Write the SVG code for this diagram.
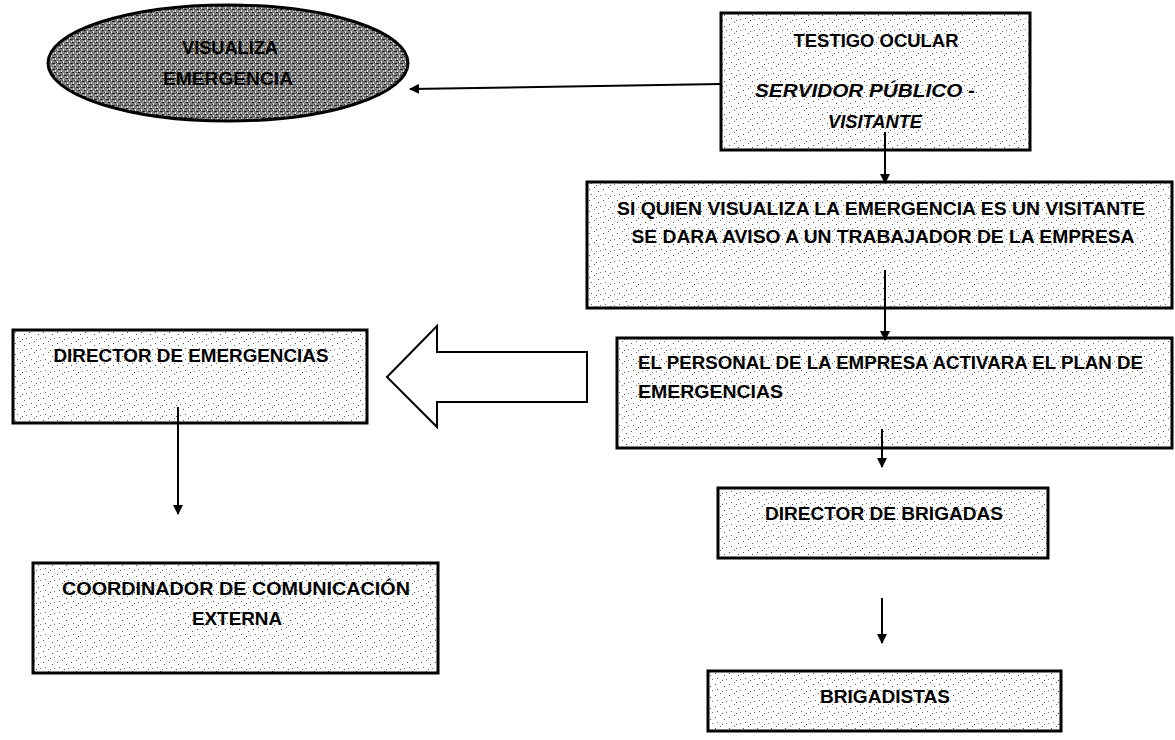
<svg xmlns="http://www.w3.org/2000/svg" width="1175" height="740" viewBox="0 0 1175 740">
<defs>
<pattern id="stip" width="14" height="11" patternUnits="userSpaceOnUse">
<rect width="14" height="11" fill="#ffffff"/>
<rect x="1" y="2" width="1" height="1" fill="#555"/>
<rect x="6" y="0" width="1" height="1" fill="#666"/>
<rect x="10" y="4" width="1" height="1" fill="#555"/>
<rect x="3" y="7" width="1" height="1" fill="#666"/>
<rect x="8" y="9" width="1" height="1" fill="#555"/>
<rect x="12" y="8" width="1" height="1" fill="#777"/>
</pattern>
<pattern id="noise" width="6" height="6" patternUnits="userSpaceOnUse">
<rect width="6" height="6" fill="#7e7e7e"/>
<rect x="0" y="0" width="2" height="1" fill="#1a1a1a"/>
<rect x="3" y="1" width="1" height="2" fill="#f0f0f0"/>
<rect x="4" y="3" width="2" height="1" fill="#222"/>
<rect x="1" y="4" width="1" height="2" fill="#e8e8e8"/>
<rect x="2" y="2" width="1" height="1" fill="#333"/>
<rect x="5" y="5" width="1" height="1" fill="#ddd"/>
<rect x="0" y="3" width="1" height="1" fill="#2a2a2a"/>
</pattern>
<marker id="ah" viewBox="0 0 10 10" refX="9" refY="5" markerWidth="10" markerHeight="10" markerUnits="userSpaceOnUse" orient="auto">
<path d="M0,0 L10,5 L0,10 Z" fill="#000"/>
</marker>
<style>
.box{fill:url(#stip);stroke:#000;stroke-width:3}
.t{font-family:"Liberation Sans",Arial,sans-serif;font-weight:bold;font-size:18px;fill:#000}
.c{text-anchor:middle}
.i{font-style:italic}
.ln{stroke:#000;stroke-width:2;fill:none;marker-end:url(#ah)}
</style>
</defs>
<g id="visualiza">
<ellipse cx="228" cy="63" rx="180" ry="58" fill="url(#noise)" stroke="#000" stroke-width="3"/>
<text class="t c" x="230" y="54" textLength="96" lengthAdjust="spacingAndGlyphs">VISUALIZA</text>
<text class="t c" x="228" y="85" textLength="130" lengthAdjust="spacingAndGlyphs">EMERGENCIA</text>
</g>
<g id="testigo">
<rect class="box" x="721" y="13" width="309" height="137"/>
<text class="t c" x="876" y="47" textLength="165" lengthAdjust="spacingAndGlyphs">TESTIGO OCULAR</text>
<text class="t c i" x="865" y="97" textLength="220" lengthAdjust="spacingAndGlyphs">SERVIDOR PÚBLICO -</text>
<text class="t c i" x="875" y="128" textLength="94" lengthAdjust="spacingAndGlyphs">VISITANTE</text>
</g>
<g id="si-quien">
<rect class="box" x="587" y="182" width="585" height="126"/>
<text class="t c" x="881" y="215" textLength="528" lengthAdjust="spacingAndGlyphs">SI QUIEN VISUALIZA LA EMERGENCIA ES UN VISITANTE</text>
<text class="t c" x="883" y="243" textLength="503" lengthAdjust="spacingAndGlyphs">SE DARA AVISO A UN TRABAJADOR DE LA EMPRESA</text>
</g>
<g id="el-personal">
<rect class="box" x="617" y="338" width="555" height="110"/>
<text class="t" x="638" y="369" textLength="505" lengthAdjust="spacingAndGlyphs">EL PERSONAL DE LA EMPRESA ACTIVARA EL PLAN DE</text>
<text class="t" x="638" y="398" textLength="145" lengthAdjust="spacingAndGlyphs">EMERGENCIAS</text>
</g>
<g id="director-emergencias">
<rect class="box" x="13" y="330" width="354" height="93"/>
<text class="t c" x="191" y="362" textLength="275" lengthAdjust="spacingAndGlyphs">DIRECTOR DE EMERGENCIAS</text>
</g>
<g id="coordinador">
<rect class="box" x="33" y="563" width="405" height="110"/>
<text class="t c" x="236" y="595" textLength="348" lengthAdjust="spacingAndGlyphs">COORDINADOR DE COMUNICACIÓN</text>
<text class="t c" x="237" y="625" textLength="90" lengthAdjust="spacingAndGlyphs">EXTERNA</text>
</g>
<g id="director-brigadas">
<rect class="box" x="718" y="488" width="330" height="70"/>
<text class="t c" x="884" y="520" textLength="238" lengthAdjust="spacingAndGlyphs">DIRECTOR DE BRIGADAS</text>
</g>
<g id="brigadistas">
<rect class="box" x="708" y="671" width="353" height="60"/>
<text class="t c" x="885" y="703" textLength="130" lengthAdjust="spacingAndGlyphs">BRIGADISTAS</text>
</g>
<g id="connectors">
<line class="ln" x1="721" y1="84" x2="410" y2="89"/>
<line class="ln" x1="885" y1="132" x2="885" y2="183"/>
<line class="ln" x1="885" y1="270" x2="885" y2="340"/>
<line class="ln" x1="882" y1="429" x2="882" y2="467"/>
<line class="ln" x1="882" y1="598" x2="882" y2="643"/>
<line class="ln" x1="178" y1="407" x2="178" y2="514"/>
<path d="M387,377 L437,326 L437,352 L587,352 L587,402 L437,402 L437,427 Z" fill="#fff" stroke="#000" stroke-width="2"/>
</g>
</svg>
